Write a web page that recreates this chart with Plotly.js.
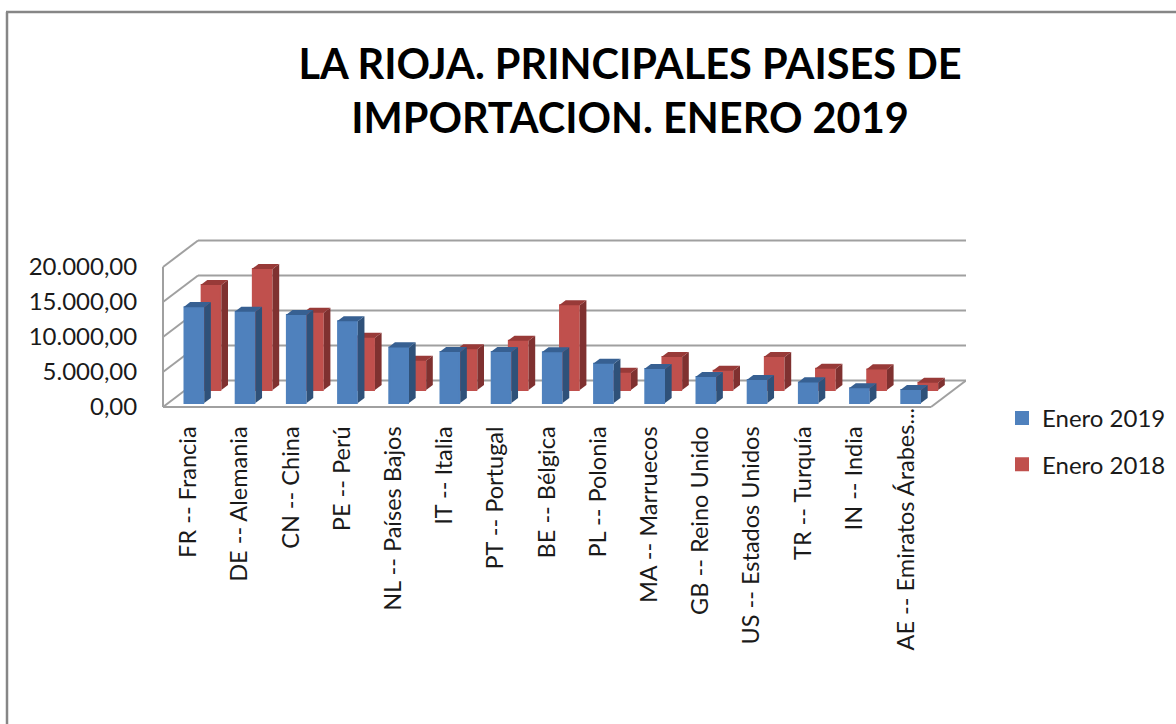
<!DOCTYPE html>
<html>
<head>
<meta charset="utf-8">
<script src="https://cdn.plot.ly/plotly-3.0.1.min.js"></script>
<style>html,body{margin:0;padding:0;background:#fff;overflow:hidden}</style>
</head>
<body>
<div id="chart" style="width:1176px;height:724px"></div>
<script>
const categories = ["FR -- Francia","DE -- Alemania","CN -- China","PE -- Perú","NL -- Países Bajos","IT -- Italia","PT -- Portugal","BE -- Bélgica","PL -- Polonia","MA -- Marruecos","GB -- Reino Unido","US -- Estados Unidos","TR -- Turquía","IN -- India","AE -- Emiratos Árabes..."];
const enero2019 = [13700,13050,12570,11670,7950,7290,7290,7240,5620,4860,3710,3290,2950,2095,1860];
const enero2018 = [15000,17290,11050,7480,4190,5810,7050,12100,2480,4710,2760,4710,3050,2950,1050];
const yTicks = [0,5000,10000,15000,20000];

// Plot-area geometry: one x unit is a category, one y unit is a value.
// The plot area is padded so the wall lines are not clipped at its edges.
const W = 1176, H = 724, L = 163, R = 966, B = 407, T = 241, padPx = 5;
const pitch = 51.2, pxPerValue = 0.007;
const xMin = -padPx / pitch, xMax = (R - L) / pitch;
const yMin = -padPx / pxPerValue, yMax = (B - T + padPx) / pxPerValue;
// Oblique projection of the depth axis, in axis units per unit of depth.
const depthX = 35 / pitch, depthY = 26.5 / pxPerValue;
const barW = 18.7 / pitch, barDepth = 0.19, edge = 2;

const frontDepth = {blue: 0.15, red: 0.64};
const idx = categories.map((_, i) => i + 0.5);
const lastCat = categories.length - 1;

function faces(values, d) {
  const ox = d * depthX, oy = d * depthY, dx = barDepth * depthX, dy = barDepth * depthY;
  const hw = barW / 2 + 1 / pitch;
  const side = {x: [], y: []}, top = {x: [], y: []};
  values.forEach((v, i) => {
    const xr = idx[i] + ox + hw, xl = idx[i] + ox - hw, b = oy, t = oy + v;
    side.x.push(xr, xr + dx, xr + dx, xr, xr, null);
    side.y.push(b, b + dy, t + dy, t, b, null);
    top.x.push(xl, xl + dx, xr + dx, xr, xl, null);
    top.y.push(t, t + dy, t + dy, t, t, null);
  });
  return {side, top};
}
function poly(f, color, xa, ya) {
  return {type: "scatter", mode: "lines", x: f.x, y: f.y, xaxis: xa, yaxis: ya, fill: "toself",
    fillcolor: color, line: {width: 0, color: color}, showlegend: false, hoverinfo: "skip"};
}
function bars(name, values, d, color, xa, ya, rank) {
  return {type: "bar", name: name, legendgroup: name, legendrank: rank, x: idx.map(v => v + d * depthX), y: values,
    base: values.map(() => d * depthY), width: barW, xaxis: xa, yaxis: ya,
    marker: {color: color, line: {color: color, width: edge}}, hovertemplate: "%{y:,.2f}<extra>" + name + "</extra>"};
}
const fb = faces(enero2019, frontDepth.blue), fr = faces(enero2018, frontDepth.red);
const traces = [
  bars("Enero 2018", enero2018, frontDepth.red, "#C0504D", "x", "y", 2),
  poly(fr.side, "#7F3130", "x", "y"),
  poly(fr.top, "#983A38", "x", "y"),
  bars("Enero 2019", enero2019, frontDepth.blue, "#4F81BD", "x2", "y2", 1),
  poly(fb.side, "#2F5179", "x2", "y2"),
  poly(fb.top, "#376092", "x2", "y2")
];

const wall = {color: "#A0A0A0", width: 2};
const seg = (x0, y0, x1, y1) => ({type: "line", xref: "x", yref: "y", layer: "below", x0, y0, x1, y1, line: wall});
const shapes = [];
yTicks.forEach(v => {
  shapes.push(seg(0, v, depthX, v + depthY));
  shapes.push(seg(depthX, v + depthY, xMax, v + depthY));
});
shapes.push(seg(0, 0, 0, yTicks[yTicks.length - 1]));
shapes.push(seg(0, 0, categories.length, 0));
shapes.push(seg(categories.length, 0, categories.length + depthX, depthY));
// Chart-area frame, running off the right and bottom of the window.
const frame = {color: "#868686", width: 2.5};
const pl = L - padPx, pb = B + padPx, pt = T - padPx;
const px = v => (v - pl) / (R - pl), py = v => (pb - v) / (pb - pt);
shapes.push({type: "line", xref: "paper", yref: "paper", x0: px(7), x1: px(7), y0: py(12), y1: py(H + 5), line: frame});
shapes.push({type: "line", xref: "paper", yref: "paper", x0: px(6), x1: px(W + 5), y0: py(12), y1: py(12), line: frame});

const font = "Lato, 'Open Sans', sans-serif";
const catFont = {size: 23.5, family: font, color: "#1a1a1a"};
const layout = {
  width: W, height: H, paper_bgcolor: "#fff", plot_bgcolor: "rgba(0,0,0,0)",
  margin: {l: pl, r: W - R, t: pt, b: H - pb, pad: 0},
  separators: ",.", barmode: "overlay", showlegend: true, shapes: shapes,
  font: {family: font, color: "#1a1a1a"},
  title: {text: "LA RIOJA. PRINCIPALES PAISES DE<br>IMPORTACION. ENERO 2019", x: 630 / W, xanchor: "center", y: 1 - 79 / H, yanchor: "middle",
    font: {family: font, size: 41.5, weight: 700, color: "#000"}},
  xaxis: {range: [xMin, xMax], tickmode: "array", tickvals: idx.slice(0, lastCat), ticktext: categories.slice(0, lastCat), tickangle: -90,
    ticklen: 4, tickcolor: "rgba(0,0,0,0)", showgrid: false, zeroline: false, showline: false,
    tickfont: catFont},
  yaxis: {range: [yMin, yMax], tickmode: "array", tickvals: yTicks, tickformat: ",.2f", ticklen: 15,
    tickcolor: "rgba(0,0,0,0)", showgrid: false, zeroline: false, showline: false,
    tickfont: {size: 24, family: font, color: "#1a1a1a"}},
  xaxis2: {range: [xMin, xMax], overlaying: "x", visible: false},
  yaxis2: {range: [yMin, yMax], overlaying: "y", visible: false},
  // The truncated last label sits closer to the floor than the other tick labels.
  annotations: [{text: categories[lastCat], xref: "x", yref: "paper", x: idx[lastCat], y: py(407), yanchor: "top", xanchor: "center",
    textangle: -90, showarrow: false, font: catFont, borderpad: 0, bgcolor: "rgba(0,0,0,0)"}],
  legend: {x: 1002 / W, xref: "container", y: 1 - 396 / H, yref: "container", xanchor: "left", yanchor: "top",
    traceorder: "grouped", tracegroupgap: 12, font: {size: 24, family: font, color: "#1a1a1a"}, bgcolor: "rgba(0,0,0,0)"}
};
Plotly.newPlot("chart", traces, layout, {displayModeBar: false});
</script>
</body>
</html>
